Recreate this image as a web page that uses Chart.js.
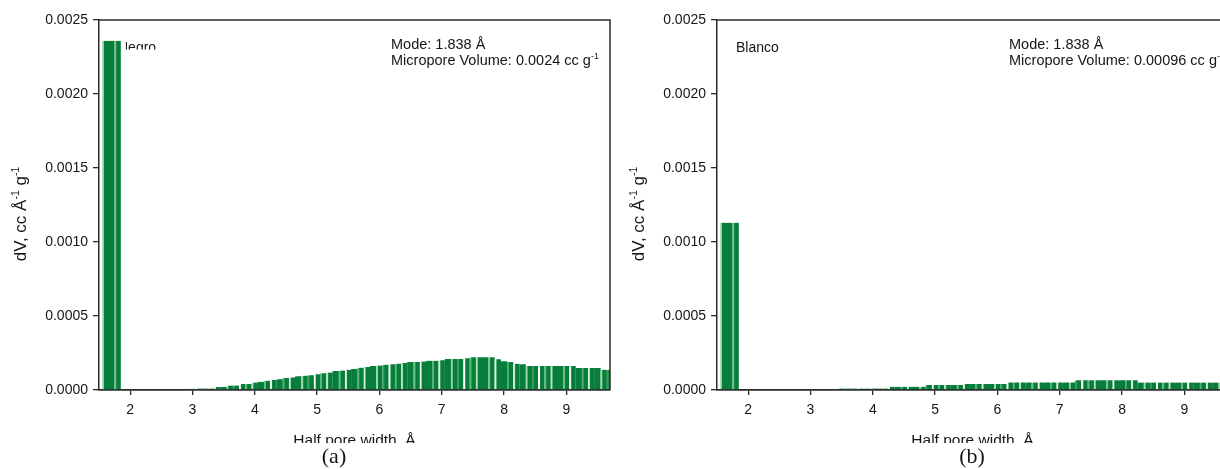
<!DOCTYPE html>
<html>
<head>
<meta charset="utf-8">
<script src="https://cdn.jsdelivr.net/npm/chart.js@4.4.1/dist/chart.umd.min.js"></script>
<style>
  html, body { margin: 0; padding: 0; background: #fff; overflow: hidden; width: 1220px; height: 469px; }
  .panel { position: absolute; top: 0; width: 620px; height: 469px; }
  #panelA { left: 0; }
  #panelB { left: 618px; }
</style>
</head>
<body>
<div class="panel" id="panelA"><canvas id="chartA" width="620" height="469"></canvas></div>
<div class="panel" id="panelB"><canvas id="chartB" width="620" height="469"></canvas></div>
<script>
// Half pore width bin centres, Å (0.1 Å bins)
const binCentres = [
  1.6, 1.7, 1.8, 1.9, 2.0, 2.1, 2.2, 2.3, 2.4, 2.5, 2.6, 2.7, 2.8, 2.9,
  3.0, 3.1, 3.2, 3.3, 3.4, 3.5, 3.6, 3.7, 3.8, 3.9,
  4.0, 4.1, 4.2, 4.3, 4.4, 4.5, 4.6, 4.7, 4.8, 4.9,
  5.0, 5.1, 5.2, 5.3, 5.4, 5.5, 5.6, 5.7, 5.8, 5.9,
  6.0, 6.1, 6.2, 6.3, 6.4, 6.5, 6.6, 6.7, 6.8, 6.9,
  7.0, 7.1, 7.2, 7.3, 7.4, 7.5, 7.6, 7.7, 7.8, 7.9,
  8.0, 8.1, 8.2, 8.3, 8.4, 8.5, 8.6, 8.7, 8.8, 8.9,
  9.0, 9.1, 9.2, 9.3, 9.4, 9.5, 9.6, 9.7
];

// dV (cc Å^-1 g^-1), sample "Negro"
const negroDV = [
  0.00236, 0.00236, 0.00236, 0, 0, 0, 0, 0, 0, 0, 0, 0, 0, 0,
  0.000008, 0.00001, 0.00001, 0.00001, 0.00002, 0.00002, 0.00003, 0.00003, 0.00004, 0.00004,
  0.00005, 0.000055, 0.000063, 0.000068, 0.000072, 0.000081, 0.000085, 0.000093, 0.000097, 0.0001,
  0.000106, 0.000113, 0.000118, 0.000128, 0.000132, 0.000137, 0.000142, 0.000151, 0.000156, 0.000162,
  0.000165, 0.000171, 0.000174, 0.000178, 0.000182, 0.000189, 0.000189, 0.000192, 0.000198, 0.000198,
  0.000201, 0.00021, 0.00021, 0.00021, 0.000214, 0.000221, 0.000221, 0.000221, 0.000221, 0.000207,
  0.000195, 0.000189, 0.000178, 0.000174, 0.000162, 0.000162, 0.000162, 0.000162, 0.000162, 0.000162,
  0.000162, 0.000162, 0.000149, 0.000149, 0.000149, 0.000149, 0.000137, 0.000137
];

// dV (cc Å^-1 g^-1), sample "Blanco"
const blancoDV = [
  0.00113, 0.00113, 0.00113, 0, 0, 0, 0, 0, 0, 0, 0, 0, 0, 0,
  0, 0, 0, 0, 0, 0.00001, 0.00001, 0.00001, 0.00001, 0.00001,
  0.00001, 0.00001, 0.00001, 0.000022, 0.000022, 0.000022, 0.000022, 0.000022, 0.000022, 0.000034,
  0.000034, 0.000034, 0.000034, 0.000034, 0.000034, 0.00004, 0.00004, 0.00004, 0.00004, 0.00004,
  0.00004, 0.00004, 0.000051, 0.000051, 0.000051, 0.000051, 0.000051, 0.000051, 0.000051, 0.000051,
  0.000051, 0.000051, 0.000051, 0.000066, 0.000066, 0.000066, 0.000066, 0.000066, 0.000066, 0.000066,
  0.000066, 0.000066, 0.000066, 0.00005, 0.00005, 0.00005, 0.00005, 0.00005, 0.00005, 0.00005,
  0.00005, 0.00005, 0.00005, 0.00005, 0.00005, 0.00005, 0.00005, 0.00005
];

const xTickValues = [2, 3, 4, 5, 6, 7, 8, 9];
const yTickValues = [0, 0.0005, 0.0010, 0.0015, 0.0020, 0.0025];

const SANS = '"Liberation Sans", Arial, Helvetica, sans-serif';
const SERIF = '"Liberation Serif", "Times New Roman", serif';
const TEXT = '#161616';
const AXIS = '#2b2b2b';
const BAR_GREEN = '#077d3b';
// seam colours between neighbouring bins
const SEAMS = ['#b5e3bf', '#077d3b', '#6cc283', '#e9f7ec', '#077d3b', '#4fb26e',
               '#d2efd8', '#077d3b', '#9ad8a9', '#3a9f5d', '#ffffff', '#5dbb78'];

// draws a run of text pieces, some of them as superscripts
function drawRich(ctx, parts, x, y, size) {
  let cx = x;
  for (const p of parts) {
    const fs = p.sup ? size * 0.62 : size;
    ctx.font = fs + 'px ' + SANS;
    ctx.fillText(p.t, cx, p.sup ? y - size * 0.42 : y);
    cx += ctx.measureText(p.t).width;
  }
  return cx - x;
}
function richWidth(ctx, parts, size) {
  let w = 0;
  for (const p of parts) {
    ctx.font = (p.sup ? size * 0.62 : size) + 'px ' + SANS;
    w += ctx.measureText(p.t).width;
  }
  return w;
}

function makePanel(canvasId, values, cfg) {
  const annotate = {
    id: 'annotate',
    beforeDatasetsDraw(chart) {
      const ctx = chart.ctx;
      const a = chart.chartArea;
      ctx.save();
      if (cfg.nameClip) {
        ctx.beginPath();
        ctx.rect(cfg.nameClip, 0, 1000, 49.5);
        ctx.clip();
      }
      ctx.fillStyle = TEXT;
      ctx.font = '14px ' + SANS;
      ctx.textBaseline = 'alphabetic';
      ctx.fillText(cfg.name, a.left + 19, 51.5);
      ctx.restore();
    },
    afterDraw(chart) {
      const ctx = chart.ctx;
      const a = chart.chartArea;
      ctx.save();
      ctx.fillStyle = TEXT;
      ctx.textBaseline = 'alphabetic';
      ctx.textAlign = 'left';

      // frame: top and right edges of the plot
      ctx.strokeStyle = AXIS;
      ctx.lineWidth = 1.5;
      ctx.beginPath();
      ctx.moveTo(a.left, a.top);
      ctx.lineTo(a.right, a.top);
      ctx.lineTo(a.right, a.bottom);
      ctx.stroke();

      // mode / micropore volume note
      ctx.font = '14.5px ' + SANS;
      ctx.fillText(cfg.mode, a.left + 292, 48.5);
      drawRich(ctx, [{ t: cfg.volume }, { t: '-1', sup: true }], a.left + 292, 65, 14.5);

      // y axis title
      const ySize = 17;
      const yParts = [{ t: 'dV, cc Å' }, { t: '-1', sup: true }, { t: ' g' }, { t: '-1', sup: true }];
      const yw = richWidth(ctx, yParts, ySize);
      ctx.save();
      ctx.translate(26, 214);
      ctx.rotate(-Math.PI / 2);
      drawRich(ctx, yParts, -yw / 2, 0, ySize);
      ctx.restore();

      // x axis title (lower part hidden under the caption strip)
      ctx.save();
      ctx.beginPath();
      ctx.rect(0, 0, chart.width, 443);
      ctx.clip();
      ctx.font = '15.5px ' + SANS;
      ctx.textAlign = 'center';
      ctx.fillText('Half pore width, Å', (a.left + a.right) / 2, 445);
      ctx.restore();

      // panel caption
      ctx.font = '22px ' + SERIF;
      ctx.textAlign = 'center';
      ctx.fillText(cfg.caption, cfg.captionX, 463);
      ctx.restore();
    }
  };

  return new Chart(document.getElementById(canvasId), {
    type: 'bar',
    data: {
      datasets: [{
        data: binCentres.map((x, i) => ({ x: x, y: values[i] })),
        backgroundColor: BAR_GREEN,
        borderColor: (c) => SEAMS[c.dataIndex % SEAMS.length],
        borderWidth: { left: 2, right: 0, top: 0, bottom: 0 },
        borderSkipped: false,
        barPercentage: 1,
        categoryPercentage: 1,
        clip: 0
      }]
    },
    options: {
      responsive: false,
      animation: false,
      events: [],
      layout: { padding: { left: 0, right: 10, top: 20, bottom: 0 } },
      plugins: { legend: { display: false }, tooltip: { enabled: false } },
      scales: {
        x: {
          type: 'linear',
          min: 1.5,
          max: 9.7,
          offset: false,
          z: 1,
          afterBuildTicks: (s) => { s.ticks = xTickValues.map(v => ({ value: v })); },
          afterFit: (s) => { s.height = 79; },
          grid: { offset: false, drawOnChartArea: false, drawTicks: true, tickLength: 5, color: AXIS, lineWidth: 1.3 },
          border: { display: true, color: AXIS, width: 1.8 },
          ticks: { color: TEXT, font: { family: SANS, size: 14 }, padding: 7, maxRotation: 0, callback: (v) => String(v) }
        },
        y: {
          min: 0,
          max: 0.0025,
          z: 1,
          afterBuildTicks: (s) => { s.ticks = yTickValues.map(v => ({ value: v })); },
          afterFit: (s) => { s.width = 99; },
          grid: { drawOnChartArea: false, drawTicks: true, tickLength: 6, color: AXIS, lineWidth: 1.3 },
          border: { display: true, color: AXIS, width: 1.5 },
          ticks: { color: TEXT, font: { family: SANS, size: 14 }, padding: 5, callback: (v) => v.toFixed(4) }
        }
      }
    },
    plugins: [annotate]
  });
}

makePanel('chartA', negroDV, {
  name: 'Negro',
  nameClip: 125.5,
  mode: 'Mode: 1.838 Å',
  volume: 'Micropore Volume: 0.0024 cc g',
  caption: '(a)',
  captionX: 334
});

makePanel('chartB', blancoDV, {
  name: 'Blanco',
  nameClip: 0,
  mode: 'Mode: 1.838 Å',
  volume: 'Micropore Volume: 0.00096 cc g',
  caption: '(b)',
  captionX: 354
});
</script>
</body>
</html>
